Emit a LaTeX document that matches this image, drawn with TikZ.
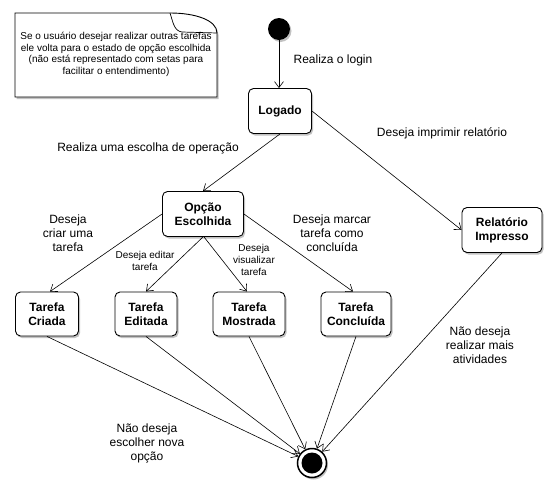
\documentclass[tikz,border=0pt]{standalone}
\usepackage{fontspec}
\setmainfont{Liberation Sans}
\usetikzlibrary{arrows.meta,shadows}
\begin{document}
\begin{tikzpicture}[x=1pt,y=-1pt,
  shadowed/.style={general shadow={fill=black!40,opacity=.6,shadow xshift=1.5pt,shadow yshift=-2pt}},
  state/.style={draw,line width=0.9pt,rounded corners=5pt,fill=white,shadowed,align=center,
    font=\fontsize{12}{14}\selectfont\bfseries,inner sep=0pt},
  lbl/.style={align=center,font=\fontsize{12}{14}\selectfont,inner sep=0pt},
  slbl/.style={align=center,font=\fontsize{10}{12}\selectfont,inner sep=0pt},
  conn/.style={line width=0.6pt,-{Straight Barb[length=6pt,width=9pt,line width=0.6pt]}}]
\useasboundingbox (0,0) rectangle (558,496);
% note
\begin{scope}[shift={(1.5,2)}]
\fill[black!40,opacity=.6] (15,13) -- (170,13) .. controls (195,13) and (217,20) .. (217,33) -- (217,97) -- (15,97) -- cycle;
\end{scope}
\draw[line width=0.9pt,fill=white] (15,13) -- (170,13) .. controls (195,13) and (217,20) .. (217,33) -- (217,97) -- (15,97) -- cycle;
\draw[line width=0.7pt] (170,13) .. controls (173,22) and (174,31) .. (182,32) -- (217,33);
\node[align=center,font=\fontsize{10}{11.7}\selectfont,inner sep=0pt] (note) at (116,54.5)
  {Se o usuário desejar realizar outras tarefas\\ele volta para o estado de opção escolhida\\(não está representado com setas para\\facilitar o entendimento)};
% states
\node[circle,fill=black,minimum size=22pt,inner sep=0pt,shadowed] (start) at (279,29) {};
\node[state,minimum width=63pt,minimum height=45pt] (logado) at (280,111) {Logado};
\node[state,minimum width=81pt,minimum height=45pt] (opcao) at (203,214) {Opção\\Escolhida};
\node[state,minimum width=63pt,minimum height=44pt] (criada) at (47,314) {Tarefa\\Criada};
\node[state,minimum width=62pt,minimum height=44pt] (editada) at (146,314) {Tarefa\\Editada};
\node[state,minimum width=72pt,minimum height=44pt] (mostrada) at (249,314) {Tarefa\\Mostrada};
\node[state,minimum width=70pt,minimum height=44pt] (concluida) at (356,314) {Tarefa\\Concluída};
\node[state,minimum width=80pt,minimum height=45pt] (relatorio) at (502,230) {Relatório\\Impresso};
\node[circle,draw,line width=1.5pt,fill=white,minimum size=29pt,inner sep=0pt,shadowed] (fim) at (312,463) {};
\fill (fim) circle (10.5pt);
% connectors
\draw[conn] (start) -- (start |- logado.north);
\draw[conn] (logado.south) -- (opcao.north);
\draw[conn] (logado.east) -- (relatorio.west);
\draw[conn] (opcao.west) -- ([xshift=3pt]criada.north);
\draw[conn] (opcao.south) -- (editada.north);
\draw[conn] ([xshift=1pt]opcao.south) -- ([xshift=-2pt]mostrada.north);
\draw[conn] (opcao.east) -- ([xshift=-3pt]concluida.north);
\draw[conn] (criada.south) -- (fim);
\draw[conn] (editada.south) -- (fim);
\draw[conn] (mostrada.south) -- (fim);
\draw[conn] (concluida.south) -- (fim);
\draw[conn] (relatorio.south) -- (fim);
% labels
\node[lbl] (l1) at (333,60) {Realiza o login};
\node[lbl] (l2) at (442,133) {Deseja imprimir relatório};
\node[lbl] (l3) at (148,148) {Realiza uma escolha de operação};
\node[lbl] (l4) at (68,233) {Deseja\\criar uma\\tarefa};
\node[slbl] (l5) at (145,261) {Deseja editar\\tarefa};
\node[slbl] (l6) at (254,260) {Deseja\\visualizar\\tarefa};
\node[lbl] (l7) at (332,233) {Deseja marcar\\tarefa como\\concluída};
\node[lbl] (l8) at (480,345) {Não deseja\\realizar mais\\atividades};
\node[lbl] (l9) at (147,443) {Não deseja\\escolher nova\\opção};
\end{tikzpicture}
\end{document}
